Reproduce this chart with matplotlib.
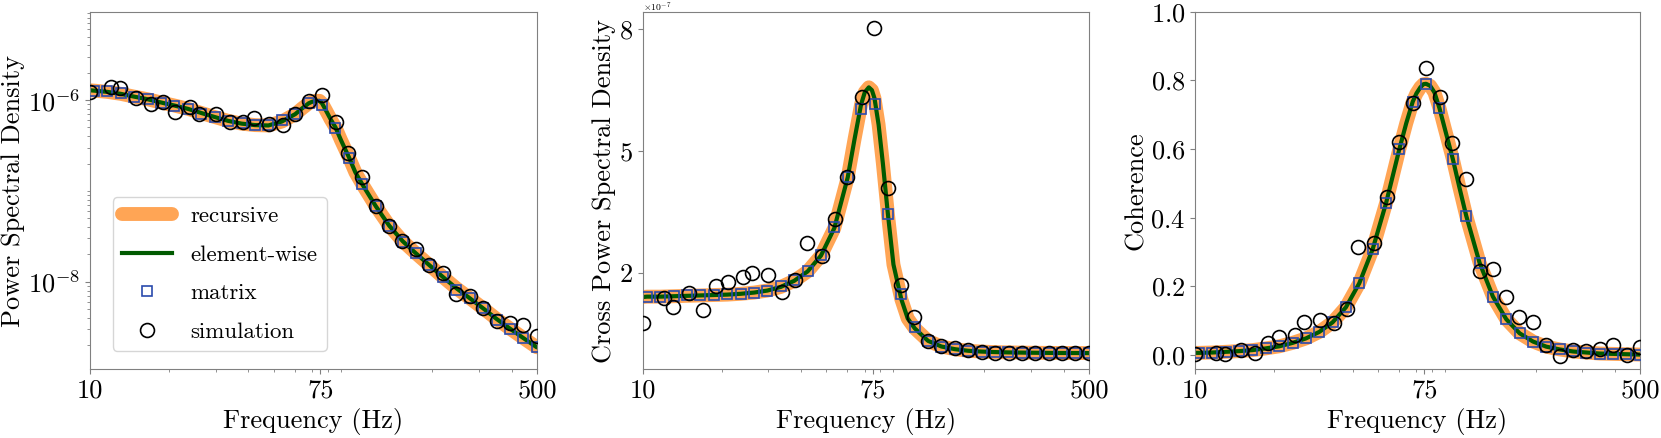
import numpy as np
import matplotlib

matplotlib.use("Agg")
import matplotlib.pyplot as plt
from matplotlib.ticker import FixedLocator, FixedFormatter, LogLocator, NullFormatter

plt.rcParams["font.family"] = "serif"
plt.rcParams["font.serif"] = ["cmr10"]
plt.rcParams["mathtext.fontset"] = "cm"
plt.rcParams["axes.formatter.use_mathtext"] = True

# frequencies of the "matrix" points (log grid) and of the simulated bins
freq = [10.35, 11.64, 13.09, 14.72, 16.56, 18.62, 20.94, 23.55, 26.49, 29.79,
        33.50, 37.67, 42.36, 47.64, 53.58, 60.26, 67.76, 76.21, 85.70, 96.38,
        108.4, 121.9, 137.1, 154.2, 173.4, 195.0, 219.3, 246.6, 277.3, 311.9,
        350.8, 394.5, 443.6, 498.9]
sim_freq = [10, 12, 13, 15, 17, 19, 21, 24, 26, 30, 34, 38, 42, 48, 54, 60, 68, 76,
            86, 96, 108, 122, 137, 154, 173, 195, 219, 247, 277, 312, 351, 395, 444, 499]
# frequencies of the continuous curves
line_freq = [10.0, 10.35, 11.64, 13.09, 14.72, 16.56, 18.62, 20.94, 23.55, 26.49,
             29.79, 33.50, 37.67, 42.36, 47.64, 53.58, 60.26, 64.0, 67.76, 70.0,
             72.5, 74.5, 76.21, 79.0, 82.0, 85.70, 90.0, 96.38, 102.0, 108.4,
             121.9, 137.1, 154.2, 173.4, 195.0, 219.3, 246.6, 277.3, 311.9, 350.8,
             394.5, 443.6, 498.9, 500.0]

# power spectral density
psd_line = [1.28e-6, 1.27e-6, 1.23e-6, 1.17e-6, 1.09e-6, 1.02e-6, 9.4e-7, 8.7e-7, 8.0e-7, 7.2e-7,
            6.5e-7, 5.9e-7, 5.5e-7, 5.3e-7, 5.25e-7, 5.8e-7, 7.0e-7, 8.1e-7, 9.2e-7, 9.6e-7,
            9.8e-7, 9.8e-7, 9.2e-7, 7.6e-7, 6.2e-7, 5.0e-7, 3.6e-7, 2.35e-7, 1.6e-7, 1.18e-7,
            6.8e-8, 4.15e-8, 2.8e-8, 2.05e-8, 1.52e-8, 1.13e-8, 8.5e-9, 6.6e-9, 5.1e-9, 3.9e-9,
            3.05e-9, 2.4e-9, 1.9e-9, 1.9e-9]
psd_matrix = [1.27e-6, 1.26e-6, 1.19e-6, 1.07e-6, 1.02e-6, 9.3e-7, 8.6e-7, 8.0e-7, 7.0e-7, 6.45e-7,
              5.9e-7, 5.6e-7, 5.3e-7, 5.3e-7, 6.0e-7, 7.1e-7, 9.2e-7, 8.8e-7, 4.9e-7, 2.3e-7,
              1.18e-7, 6.8e-8, 4.1e-8, 2.75e-8, 2.05e-8, 1.52e-8, 1.13e-8, 8.2e-9, 6.7e-9, 5.1e-9,
              3.8e-9, 3.05e-9, 2.4e-9, 1.92e-9]
psd_sim = [1.23e-6, 1.38e-6, 1.35e-6, 1.04e-6, 9.0e-7, 9.6e-7, 7.4e-7, 8.3e-7, 7.1e-7, 7.0e-7,
           5.8e-7, 5.8e-7, 6.4e-7, 5.4e-7, 5.3e-7, 7.1e-7, 9.8e-7, 1.14e-6, 5.8e-7, 2.6e-7,
           1.41e-7, 6.8e-8, 4.1e-8, 2.8e-8, 2.3e-8, 1.52e-8, 1.25e-8, 7.4e-9, 6.9e-9, 5.1e-9,
           3.7e-9, 3.5e-9, 3.3e-9, 2.5e-9]

# cross power spectral density, in units of 1e-7
cpsd_line = [1.40, 1.41, 1.41, 1.42, 1.43, 1.44, 1.45, 1.46, 1.48, 1.51,
             1.56, 1.65, 1.80, 2.03, 2.42, 3.10, 4.35, 5.30, 6.15, 6.45,
             6.57, 6.50, 6.30, 5.65, 4.70, 3.45, 2.20, 1.35, 0.87, 0.63,
             0.32, 0.18, 0.115, 0.075, 0.055, 0.043, 0.035, 0.030, 0.026, 0.023,
             0.021, 0.020, 0.018, 0.018]
cpsd_matrix = [1.41, 1.41, 1.43, 1.44, 1.45, 1.45, 1.47, 1.48, 1.51, 1.56,
               1.67, 1.82, 2.05, 2.43, 3.12, 4.35, 6.03, 6.17, 3.44, 1.48,
               0.65, 0.32, 0.175, 0.11, 0.07, 0.052, 0.042, 0.035, 0.030, 0.026,
               0.023, 0.021, 0.020, 0.018]
cpsd_sim = [0.77, 1.37, 1.15, 1.51, 1.08, 1.66, 1.76, 1.90, 2.00, 1.94,
            1.53, 1.82, 2.73, 2.40, 3.32, 4.37, 6.32, 8.03, 4.08, 1.69,
            0.90, 0.32, 0.19, 0.14, 0.09, 0.05, 0.03, 0.015, 0.012, 0.012,
            0.012, 0.012, 0.012, 0.012]

# coherence
coh_line = [0.006, 0.006, 0.007, 0.009, 0.011, 0.014, 0.019, 0.025, 0.035, 0.048,
            0.067, 0.095, 0.139, 0.209, 0.308, 0.442, 0.600, 0.675, 0.738, 0.762,
            0.780, 0.789, 0.790, 0.784, 0.765, 0.719, 0.657, 0.571, 0.490, 0.406,
            0.269, 0.170, 0.104, 0.063, 0.039, 0.024, 0.016, 0.010, 0.007, 0.004,
            0.003, 0.002, 0.001, 0.001]
coh_matrix = [0.006, 0.007, 0.009, 0.011, 0.014, 0.019, 0.025, 0.035, 0.048, 0.067,
              0.095, 0.139, 0.209, 0.308, 0.442, 0.600, 0.736, 0.789, 0.719, 0.571,
              0.406, 0.269, 0.170, 0.104, 0.063, 0.039, 0.024, 0.017, 0.010, 0.007,
              0.004, 0.003, 0.002, 0.001]
coh_sim = [0.003, 0.007, 0.003, 0.015, 0.007, 0.034, 0.053, 0.058, 0.097, 0.102,
           0.094, 0.135, 0.314, 0.327, 0.461, 0.621, 0.733, 0.835, 0.751, 0.617,
           0.513, 0.245, 0.250, 0.170, 0.110, 0.097, 0.029, -0.003, 0.015, 0.010,
           0.018, 0.029, 0.000, 0.024]

ORANGE = "#ffa555"
GREEN = "#005a00"
BLUE = "#2a4aad"
GRAY = "0.5"
FONTSIZE = 19


def draw_panel(ax, line, matrix, sim, scale=1.0):
    ax.plot(line_freq, np.array(line) * scale, color=ORANGE, lw=10,
            solid_capstyle="round", label="recursive", zorder=1)
    ax.plot(line_freq, np.array(line) * scale, color=GREEN, lw=3,
            label="element-wise", zorder=2)
    ax.plot(freq, np.array(matrix) * scale, "s", mfc="none", mec=BLUE, ms=6.5,
            mew=1.2, label="matrix", zorder=3)
    ax.plot(sim_freq, np.array(sim) * scale, "o", mfc="none", mec="k", ms=10,
            mew=1.2, label="simulation", zorder=4)

    ax.set_xscale("log")
    ax.set_xlim(10, 500)
    ax.xaxis.set_major_locator(FixedLocator([10, 75, 500]))
    ax.xaxis.set_major_formatter(FixedFormatter(["10", "75", "500"]))
    ax.xaxis.set_minor_formatter(NullFormatter())
    ax.set_xlabel("Frequency (Hz)", fontsize=FONTSIZE)
    ax.tick_params(which="both", color=GRAY, labelcolor="k", labelsize=FONTSIZE)
    for sp in ax.spines.values():
        sp.set_color(GRAY)


def main():
    fig = plt.figure(figsize=(16.61, 4.38), dpi=100)
    bottom, height = 0.1568, 0.8164
    ax1 = fig.add_axes([0.0542, bottom, 0.2691, height])
    ax2 = fig.add_axes([0.3871, bottom, 0.2685, height])
    ax3 = fig.add_axes([0.7195, bottom, 0.2679, height])

    # panel 1: power spectral density
    draw_panel(ax1, psd_line, psd_matrix, psd_sim)
    ax1.set_yscale("log")
    ax1.set_ylim(10 ** -8.964, 10 ** -5.028)
    ax1.yaxis.set_major_locator(FixedLocator([1e-8, 1e-6]))
    ax1.yaxis.set_minor_locator(LogLocator(base=10, subs=np.arange(1, 10), numticks=100))
    ax1.yaxis.set_minor_formatter(NullFormatter())
    ax1.set_ylabel("Power Spectral Density", fontsize=FONTSIZE, labelpad=2)
    ax1.legend(loc="lower left", bbox_to_anchor=(0.051, 0.052), borderaxespad=0,
               fontsize=16.5, handlelength=2.2, labelspacing=0.8)

    # panel 2: cross power spectral density
    draw_panel(ax2, cpsd_line, cpsd_matrix, cpsd_sim, scale=1e-7)
    ax2.set_ylim(-0.382e-7, 8.434e-7)
    ax2.set_yticks([2e-7, 5e-7, 8e-7])
    offset = ax2.yaxis.get_offset_text()
    offset.set_fontsize(7)
    offset.set_verticalalignment("center")
    ax2.set_ylabel("Cross Power Spectral Density", fontsize=FONTSIZE, labelpad=2)

    # panel 3: coherence
    draw_panel(ax3, coh_line, coh_matrix, coh_sim)
    ax3.set_ylim(-0.042, 1.0)
    ax3.set_yticks([0.0, 0.2, 0.4, 0.6, 0.8, 1.0])
    ax3.set_ylabel("Coherence", fontsize=FONTSIZE, labelpad=2)

    fig.savefig("out.png", dpi=100)
    plt.close(fig)


if __name__ == "__main__":
    main()
